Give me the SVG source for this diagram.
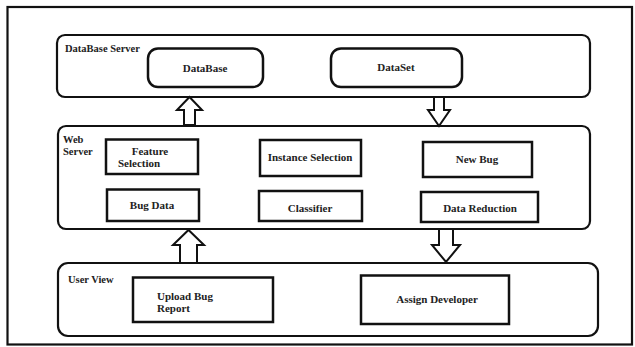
<svg xmlns="http://www.w3.org/2000/svg" width="635" height="347" viewBox="0 0 635 347">
<style>
.frame{fill:none;stroke:#111;stroke-width:2.2}
.layer{fill:#fff;stroke:#111;stroke-width:2.2}
.box{fill:#fff;stroke:#111;stroke-width:2.5}
.arrow{fill:#fff;stroke:#111;stroke-width:2}
text{font-family:"Liberation Serif","Times New Roman",serif;font-weight:bold;fill:#222}
.t{font-size:11px;text-anchor:middle}
.lbl{font-size:10.5px}
</style>
<rect x="0" y="0" width="635" height="347" fill="#fff"/>
<rect class="frame" x="7.5" y="7" width="624.5" height="337.5"/>

<g id="database-server">
<rect class="layer" x="57" y="35" width="533" height="62" rx="8"/>
<text class="lbl" x="65" y="52">DataBase Server</text>
</g>
<g id="database">
<rect class="box" x="148" y="48.5" width="115" height="38.5" rx="10"/>
<text class="t" x="205" y="72">DataBase</text>
</g>
<g id="dataset">
<rect class="box" x="331" y="48.5" width="131" height="38.5" rx="10"/>
<text class="t" x="396" y="71">DataSet</text>
</g>

<g id="web-server">
<rect class="layer" x="58" y="126" width="532" height="103" rx="8"/>
<text class="lbl" x="63" y="143">Web</text>
<text class="lbl" x="63" y="155">Server</text>
</g>
<g id="feature-selection">
<rect class="box" x="106" y="139.5" width="92" height="34.5"/>
<text class="t" x="150" y="155">Feature</text>
<text class="lbl" x="118" y="167" style="font-size:11px">Selection</text>
</g>
<g id="bug-data">
<rect class="box" x="107" y="189.5" width="92" height="31.5"/>
<text class="t" x="152" y="209">Bug Data</text>
</g>
<g id="instance-selection">
<rect class="box" x="260" y="140" width="101" height="36"/>
<text class="t" x="310" y="161">Instance Selection</text>
</g>
<g id="classifier">
<rect class="box" x="259" y="191" width="103" height="30"/>
<text class="t" x="310" y="212">Classifier</text>
</g>
<g id="new-bug">
<rect class="box" x="423" y="142" width="109" height="35"/>
<text class="t" x="477" y="163">New Bug</text>
</g>
<g id="data-reduction">
<rect class="box" x="421" y="192" width="117" height="30"/>
<text class="t" x="480" y="212">Data Reduction</text>
</g>

<g id="user-view">
<rect class="layer" x="58" y="263" width="540" height="73" rx="10"/>
<text class="lbl" x="68" y="283">User View</text>
</g>
<g id="upload-bug-report">
<rect class="box" x="133" y="277.5" width="140" height="44.5"/>
<text class="lbl" x="157" y="300" style="font-size:11px">Upload Bug</text>
<text class="lbl" x="157" y="312" style="font-size:11px">Report</text>
</g>
<g id="assign-developer">
<rect class="box" x="361" y="275.5" width="148" height="48.5"/>
<text class="t" x="437" y="303">Assign Developer</text>
</g>

<g id="connectors">
<path class="arrow" d="M184,125 V110 H177 L189.5,97 L202,110 H195 V125 Z"/>
<path class="arrow" d="M434,97 V110 H428 L439,126 L450,110 H444 V97 Z"/>
<path class="arrow" d="M180,263 V245 H173 L188.5,230 L204,245 H197 V263 Z"/>
<path class="arrow" d="M439,229 V245 H432 L446,262 L460,245 H453 V229 Z"/>
</g>
</svg>
